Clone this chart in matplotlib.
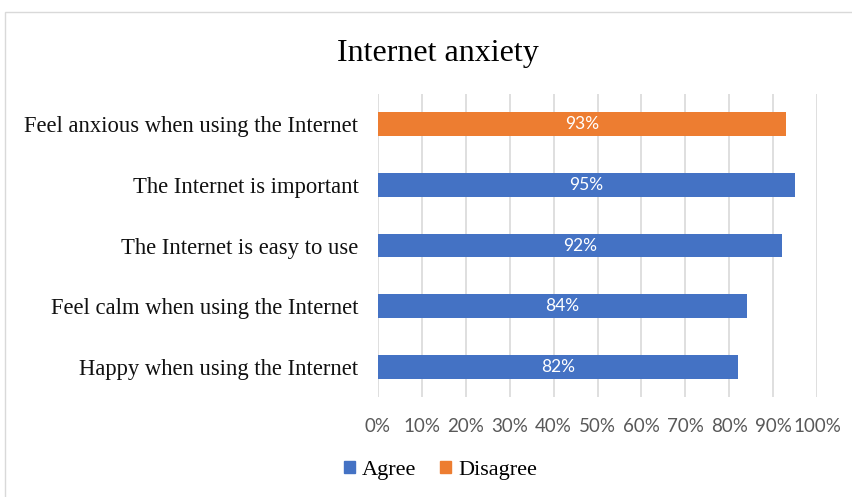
import numpy as np
import matplotlib.pyplot as plt
from matplotlib.patches import Rectangle, Patch

# Data (bottom to top as drawn)
categories = ["Happy when using the Internet", "Feel calm when using the Internet",
              "The Internet is easy to use", "The Internet is important",
              "Feel anxious when using the Internet"]
agree = [0.82, 0.84, 0.92, 0.95, np.nan]
disagree = [np.nan, np.nan, np.nan, np.nan, 0.93]
xticks = np.arange(0, 1.01, 0.1)

blue = "#4472C4"
orange = "#ED7D31"

fig = plt.figure(figsize=(8.53, 4.97), dpi=100)
ax = fig.add_axes([0.443, 0.201, 0.515, 0.61])

y = np.arange(len(categories))
ax.barh(y, agree, height=0.39, color=blue, zorder=3)
ax.barh(y, disagree, height=0.39, color=orange, zorder=3)

for i in range(len(categories)):
    v = agree[i] if not np.isnan(agree[i]) else disagree[i]
    ax.text(v / 2, y[i], f"{v*100:.0f}%", ha="center", va="center",
            color="white", fontsize=12.5, family="Lato", zorder=4)

ax.set_xlim(0, 1.0)
ax.set_ylim(-0.5, 4.5)
ax.set_xticks(xticks)
ax.set_xticklabels([f"{t*100:.0f}%" for t in xticks], family="Lato",
                   fontsize=13.5, color="#595959")
ax.set_yticks(y)
ax.set_yticklabels(categories, family="Liberation Serif", fontsize=16.3, color="#111111")
ax.tick_params(axis="x", length=0, pad=15)
ax.tick_params(axis="y", length=0, pad=14)
ax.grid(axis="x", color="#D9D9D9", linewidth=1.2, zorder=0)
for s in ax.spines.values():
    s.set_visible(False)

fig.text(0.513, 0.893, "Internet anxiety", ha="center", va="center",
         family="Liberation Serif", fontsize=23)

handles = [Patch(color=blue, label="Agree"), Patch(color=orange, label="Disagree")]
fig.legend(handles=handles, loc="center", bbox_to_anchor=(0.516, 0.054), ncol=2,
           frameon=False, prop={"family": "Liberation Serif", "size": 16},
           handlelength=0.5, handleheight=0.5, handletextpad=0.3, columnspacing=1.1)

fig.patches.append(Rectangle((0.006, -0.01), 1.0, 0.986, transform=fig.transFigure,
                             fill=False, edgecolor="#D9D9D9", linewidth=1))

fig.savefig("out.png", dpi=100)
